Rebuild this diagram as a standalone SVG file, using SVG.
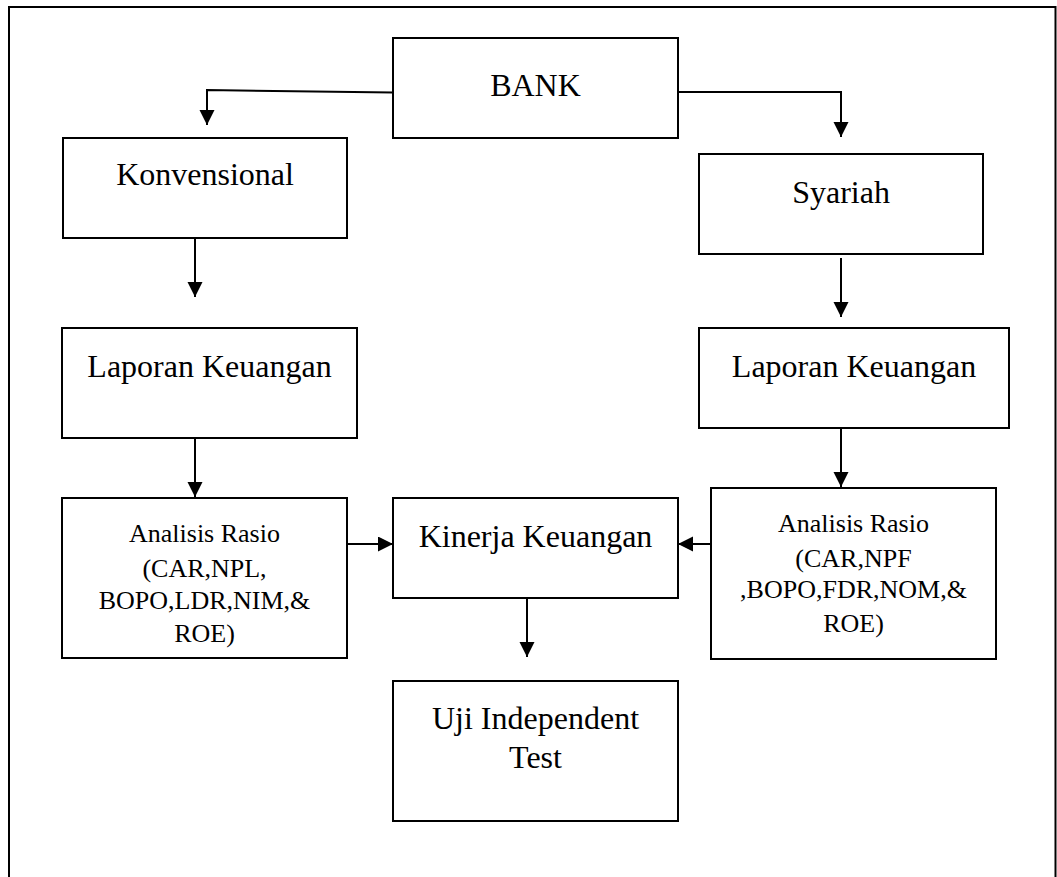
<svg xmlns="http://www.w3.org/2000/svg" width="1057" height="877" viewBox="0 0 1057 877">
<style>
.box{fill:#fff;stroke:#000;stroke-width:2}
.t{font-family:"Liberation Serif","Times New Roman",serif;font-size:32px;fill:#000;text-anchor:middle}
.s{font-size:26px}
.c{fill:none;stroke:#000;stroke-width:2}
</style>
<defs>
<marker id="ah" markerUnits="userSpaceOnUse" markerWidth="16" markerHeight="16" refX="15" refY="7.5" orient="auto">
<path d="M0,0 L15,7.5 L0,15 Z" fill="#000"/>
</marker>
</defs>
<rect width="1057" height="877" fill="#fff"/>
<path d="M9,877 V7 H1055.5 V877" fill="none" stroke="#000" stroke-width="2"/>
<g id="connectors">
<path class="c" d="M393,92.5 L207,90 V125" marker-end="url(#ah)"/>
<path class="c" d="M678,92 H841 V137" marker-end="url(#ah)"/>
<path class="c" d="M195,238 V297" marker-end="url(#ah)"/>
<path class="c" d="M841,258 V317" marker-end="url(#ah)"/>
<path class="c" d="M195,438 V497" marker-end="url(#ah)"/>
<path class="c" d="M841,428 V487" marker-end="url(#ah)"/>
<path class="c" d="M347,544 H393" marker-end="url(#ah)"/>
<path class="c" d="M713,544 H678" marker-end="url(#ah)"/>
<path class="c" d="M527,598 V657" marker-end="url(#ah)"/>
</g>
<g id="bank">
<rect class="box" x="393" y="38" width="285" height="100"/>
<text class="t" x="535.5" y="96">BANK</text>
</g>
<g id="konvensional">
<rect class="box" x="63" y="138" width="284" height="100"/>
<text class="t" x="205" y="185">Konvensional</text>
</g>
<g id="syariah">
<rect class="box" x="699" y="154" width="284" height="100"/>
<text class="t" x="841" y="203">Syariah</text>
</g>
<g id="laporan-kiri">
<rect class="box" x="62" y="328" width="295" height="110"/>
<text class="t" x="209.5" y="377">Laporan Keuangan</text>
</g>
<g id="laporan-kanan">
<rect class="box" x="699" y="328" width="310" height="100"/>
<text class="t" x="854" y="377">Laporan Keuangan</text>
</g>
<g id="analisis-kiri">
<rect class="box" x="62" y="498" width="285" height="160"/>
<text class="t s" x="204.5" y="542">Analisis Rasio</text>
<text class="t s" x="204.5" y="577">(CAR,NPL,</text>
<text class="t s" x="204.5" y="609">BOPO,LDR,NIM,&amp;</text>
<text class="t s" x="204.5" y="642">ROE)</text>
</g>
<g id="kinerja">
<rect class="box" x="393" y="498" width="285" height="100"/>
<text class="t" x="535.5" y="547">Kinerja Keuangan</text>
</g>
<g id="analisis-kanan">
<rect class="box" x="711" y="488" width="285" height="171"/>
<text class="t s" x="853.5" y="532">Analisis Rasio</text>
<text class="t s" x="853.5" y="567">(CAR,NPF</text>
<text class="t s" x="853.5" y="598">,BOPO,FDR,NOM,&amp;</text>
<text class="t s" x="853.5" y="632">ROE)</text>
</g>
<g id="uji">
<rect class="box" x="393" y="681" width="285" height="140"/>
<text class="t" x="535.5" y="729">Uji Independent</text>
<text class="t" x="535.5" y="768">Test</text>
</g>
</svg>
